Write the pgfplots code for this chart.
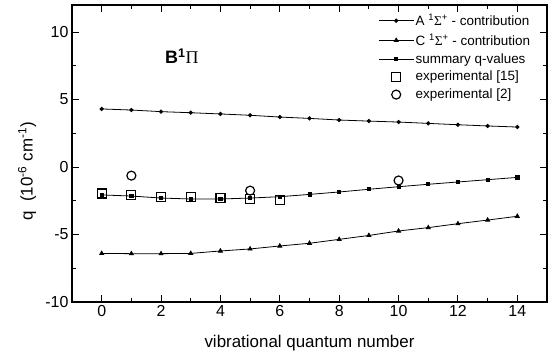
\documentclass[border=0pt]{standalone}
\usepackage{pgfplots}
\pgfplotsset{compat=1.18}
\usepackage{fontspec}
\setmainfont{Liberation Sans}
\newfontfamily\grk{Liberation Serif}
\begin{document}
\begin{tikzpicture}
\begin{axis}[
  scale only axis, width=475bp, height=297bp,
  xmin=-1, xmax=15, ymin=-10, ymax=12,
  xtick={0,2,...,14}, ytick={-10,-5,0,5,10},
  minor x tick num=1, minor y tick num=1,
  tick align=inside, tick pos=both,
  major tick length=7bp, minor tick length=4bp,
  axis line style={line width=1.2pt},
  every tick/.style={line width=0.9pt, black},
  tick label style={font=\fontsize{16}{18}\selectfont},
  /pgf/number format/assume math mode=true,
  xlabel={vibrational quantum number},
  ylabel={q\ \ (10\textsuperscript{-6} cm\textsuperscript{-1})},
  every axis y label/.style={at={(rel axis cs:0,0.44)}, xshift=-45bp, rotate=90, anchor=center, font=\fontsize{17}{20}\selectfont},
  every axis x label/.style={at={(rel axis cs:0.5,0)}, anchor=base, yshift=-45bp, font=\fontsize{17}{20}\selectfont},
  legend cell align=left,
  legend style={at={(rel axis cs:0.968,0.975)}, anchor=north east, draw=none, fill=none,
    font=\fontsize{13.5}{15}\selectfont, row sep=3.5bp, inner sep=0pt, nodes={inner sep=1.5bp}},
  legend image code/.code={\draw[mark repeat=2,mark phase=2,#1] plot coordinates {(0bp,0bp) (17.5bp,0bp) (35bp,0bp)};},
]
\addplot[black, line width=0.8pt, mark=*, mark size=1.7bp, mark options={solid}] coordinates {
(0,4.30) (1,4.22) (2,4.10) (3,4.02) (4,3.93) (5,3.83) (6,3.70) (7,3.60)
(8,3.48) (9,3.40) (10,3.33) (11,3.23) (12,3.13) (13,3.04) (14,2.96)};
\addlegendentry{A \textsuperscript{1}{\grk Σ}\textsuperscript{+} - contribution}
\addplot[black, line width=0.8pt, mark=triangle*, mark size=2.3bp] coordinates {
(0,-6.40) (1,-6.42) (2,-6.42) (3,-6.40) (4,-6.22) (5,-6.07) (6,-5.85) (7,-5.65)
(8,-5.36) (9,-5.07) (10,-4.74) (11,-4.49) (12,-4.20) (13,-3.93) (14,-3.65)};
\addlegendentry{C \textsuperscript{1}{\grk Σ}\textsuperscript{+} - contribution}
\addplot[black, line width=0.8pt, mark=square*, mark size=1.6bp] coordinates {
(0,-2.07) (1,-2.15) (2,-2.30) (3,-2.37) (4,-2.37) (5,-2.30) (6,-2.20) (7,-2.03)
(8,-1.85) (9,-1.65) (10,-1.46) (11,-1.28) (12,-1.11) (13,-0.94) (14,-0.77)};
\addlegendentry{summary q-values}
\addplot[black, only marks, mark=square, mark size=4.5bp, line width=1.2pt] coordinates {
(0,-1.97) (1,-2.07) (2,-2.20) (3,-2.25) (4,-2.30) (5,-2.40) (6,-2.45)};
\addlegendentry{experimental [15]}
\addplot[black, only marks, mark=o, mark size=4.5bp, line width=1.2pt] coordinates {
(1,-0.64) (5,-1.75) (10,-1.00)};
\addlegendentry{experimental [2]}
\node[font=\fontsize{18}{20}\selectfont\bfseries] at (axis cs:2.7,8.2) {B\textsuperscript{1}{\grk\mdseries Π}};
\end{axis}
\pgfresetboundingbox
\path[use as bounding box] (current axis.south west) ++(-72bp,-60bp) rectangle ([xshift=4bp,yshift=5bp]current axis.north east);
\end{tikzpicture}
\end{document}
